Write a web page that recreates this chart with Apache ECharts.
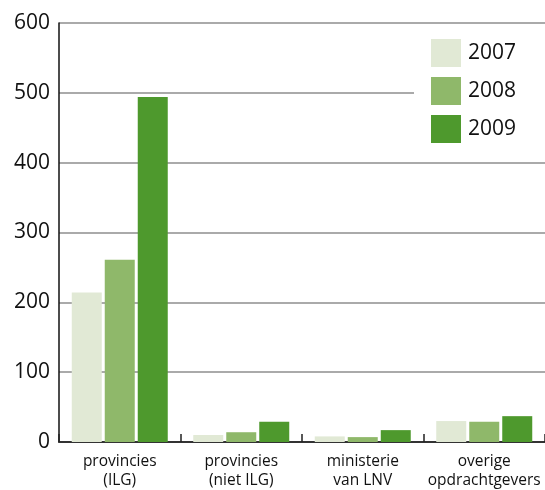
<!DOCTYPE html>
<html><head><meta charset="utf-8">
<script src="https://cdn.jsdelivr.net/npm/echarts@6/dist/echarts.min.js"></script>
<style>html,body{margin:0;padding:0;background:#fff;overflow:hidden}#c{width:545px;height:490px}</style>
</head><body><div id="c"></div>
<script>
const categories = ["provincies\n(ILG)", "provincies\n(niet ILG)", "ministerie\nvan LNV", "overige\nopdrachtgevers"];
const years = ["2007", "2008", "2009"];
const values2007 = [214, 10, 8, 30];
const values2008 = [261, 14, 7, 29];
const values2009 = [494, 29, 17, 37];
const yTicks = [0, 100, 200, 300, 400, 500, 600];
const colors = ["#e1e9d5", "#8fb86a", "#4e992d"];
const font = "'Open Sans', 'Noto Sans', sans-serif";

const chart = echarts.init(document.getElementById('c'));
chart.setOption({
  animation: false,
  textStyle: { fontFamily: font },
  grid: { left: 59, right: -4, top: 23, bottom: 47, containLabel: false },
  legend: {
    data: years,
    left: 414, top: 27,
    orient: 'vertical',
    itemWidth: 30, itemHeight: 28, itemGap: 10,
    padding: [12, 40, 6, 17],
    backgroundColor: '#fff',
    icon: 'rect',
    textStyle: { fontSize: 21, color: '#111', fontFamily: font, padding: [0, 0, 0, 2] }
  },
  xAxis: {
    type: 'category',
    data: categories,
    axisLine: { lineStyle: { color: '#333', width: 2 } },
    axisTick: { show: true, inside: true, length: 8, interval: 0, lineStyle: { color: '#222', width: 1.5 } },
    axisLabel: { interval: 0, fontSize: 15.5, color: '#111', lineHeight: 19, margin: 10, fontFamily: font }
  },
  yAxis: {
    type: 'value', min: 0, max: 600, interval: 100,
    axisLine: { show: true, lineStyle: { color: '#111', width: 1.5 } },
    axisTick: { show: false },
    splitLine: { lineStyle: { color: '#aaa', width: 2 } },
    axisLabel: { fontSize: 21, color: '#111', margin: 9, fontFamily: font,
      formatter: v => yTicks.includes(v) ? String(v) : '' }
  },
  series: [
    { name: years[0], type: 'bar', data: values2007, barWidth: 30, barGap: '10%', itemStyle: { color: colors[0] } },
    { name: years[1], type: 'bar', data: values2008, barWidth: 30, barGap: '10%', itemStyle: { color: colors[1] } },
    { name: years[2], type: 'bar', data: values2009, barWidth: 30, barGap: '10%', itemStyle: { color: colors[2] } }
  ]
});
</script></body></html>
